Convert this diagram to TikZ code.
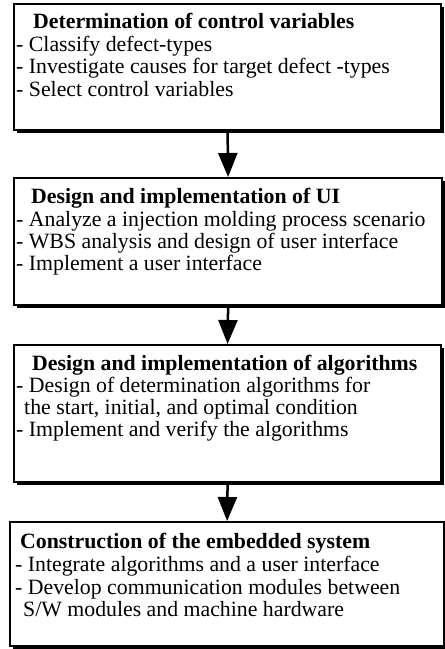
\documentclass[tikz,border=0pt]{standalone}
\usepackage{fontspec}
\setmainfont{Liberation Serif}
\usetikzlibrary{arrows.meta,shadows}
\begin{document}
\begin{tikzpicture}[x=1pt,y=-1pt,
  box/.style={draw=black,line width=2.2pt,fill=white,anchor=north west,inner sep=0pt,
    drop shadow={shadow xshift=3pt,shadow yshift=-3pt,fill=black,opacity=1}},
  ttl/.style={anchor=base west,inner sep=0pt,font=\fontsize{21.8}{22}\selectfont\bfseries},
  itm/.style={anchor=base west,inner sep=0pt,font=\fontsize{21.8}{22}\selectfont},
  flow/.style={line width=2.5pt,-{Triangle[width=19pt,length=24pt]}}]
\useasboundingbox (0,0) rectangle (445,649);
\fill[white] (0,0) rectangle (445,649);

% boxes
\node[box,minimum width=427pt,minimum height=126pt] (b1) at (13,3) {};
\node[box,minimum width=428pt,minimum height=127pt] (b2) at (13,177) {};
\node[box,minimum width=427pt,minimum height=137pt] (b3) at (13,344) {};
\node[box,minimum width=434pt,minimum height=124pt] (b4) at (9,521) {};

% box 1
\node[ttl] (t1) at (33,28.5) {Determination of control variables};
\node[itm] (t1a) at (16,51) {- Classify defect-types};
\node[itm] (t1b) at (16,73.5) {- Investigate causes for target defect -types};
\node[itm] (t1c) at (16,96) {- Select control variables};

% box 2
\node[ttl] (t2) at (31,203) {Design and implementation of UI};
\node[itm] (t2a) at (16,226) {- Analyze a injection molding process scenario};
\node[itm] (t2b) at (16,248) {- WBS analysis and design of user interface};
\node[itm] (t2c) at (16,270) {- Implement a user interface};

% box 3
\node[ttl] (t3) at (32,370) {Design and implementation of algorithms};
\node[itm] (t3a) at (16,392) {- Design of determination algorithms for};
\node[itm] (t3b) at (24,414) {the start, initial, and optimal condition};
\node[itm] (t3c) at (16,436) {- Implement and verify the algorithms};

% box 4
\node[ttl] (t4) at (20,548) {Construction of the embedded system};
\node[itm] (t4a) at (15,571) {- Integrate algorithms and a user interface};
\node[itm] (t4b) at (15,594) {- Develop communication modules between};
\node[itm] (t4c) at (23,616.5) {S/W modules and machine hardware};

% arrows
\draw[flow] (b1.south) -- (b2.north);
\draw[flow] (b2.south) -- (b3.north);
\draw[flow] (b3.south) -- (b4.north);
\end{tikzpicture}
\end{document}
